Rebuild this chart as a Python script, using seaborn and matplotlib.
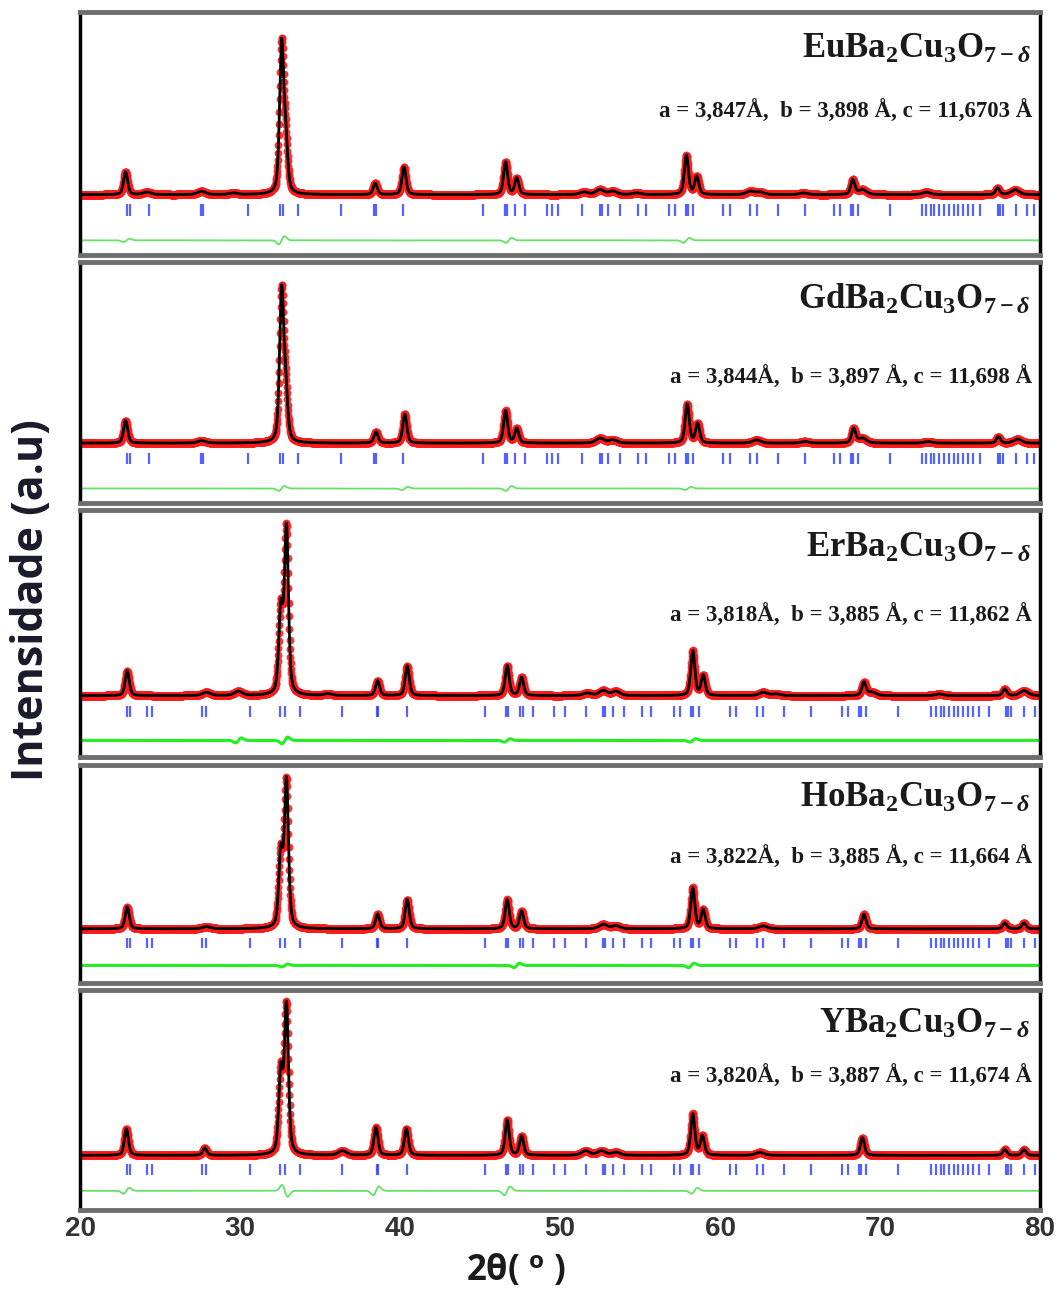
import numpy as np
import pandas as pd
import matplotlib
matplotlib.use("Agg")
import matplotlib.pyplot as plt
import seaborn as sns

sns.set_style("white")
plt.rcParams["mathtext.fontset"] = "custom"
plt.rcParams["mathtext.rm"] = "Liberation Serif:bold"
plt.rcParams["mathtext.it"] = "Liberation Serif:bold:italic"
plt.rcParams["mathtext.bf"] = "Liberation Serif:bold"
plt.rcParams["mathtext.sf"] = "Open Sans:bold"

# ---- data ---------------------------------------------------------------
formulas = [r"EuBa$_2$Cu$_3$O$_{7-\delta}$", r"GdBa$_2$Cu$_3$O$_{7-\delta}$",
            r"ErBa$_2$Cu$_3$O$_{7-\delta}$", r"HoBa$_2$Cu$_3$O$_{7-\delta}$",
            r"YBa$_2$Cu$_3$O$_{7-\delta}$"]
cells = ["a = 3,847Å,  b = 3,898 Å, c = 11,6703 Å",
         "a = 3,844Å,  b = 3,897 Å, c = 11,698 Å",
         "a = 3,818Å,  b = 3,885 Å, c = 11,862 Å",
         "a = 3,822Å,  b = 3,885 Å, c = 11,664 Å",
         "a = 3,820Å,  b = 3,887 Å, c = 11,674 Å"]

# peak position (2theta) and height (main peak ~ 100)
eu_pos = [22.85, 24.2, 27.6, 29.6, 32.6, 32.85, 38.45, 40.25, 46.6, 47.3, 51.5, 52.5, 53.3, 54.8,
          57.9, 58.55, 61.9, 62.5, 65.2, 68.3, 68.9, 72.9, 77.35, 78.45]
eu_hgt = [14, 1.5, 2, 1, 90, 30, 7, 17, 20, 10, 1.5, 3, 2, 1,
          24, 11, 2, 1.5, 1, 9, 3, 1.5, 4, 3]
gd_pos = [22.85, 27.6, 32.6, 32.85, 38.5, 40.3, 46.6, 47.3, 52.5, 53.3, 57.95, 58.6, 62.3, 65.3,
          68.35, 68.9, 73.0, 77.4, 78.6]
gd_hgt = [14, 1.5, 92, 30, 7, 18, 20, 9, 3, 2, 24, 12, 2, 1,
          9, 3, 1, 4, 2.5]
er_pos = [22.95, 27.9, 29.9, 32.55, 32.9, 35.5, 38.6, 40.45, 46.7, 47.6, 51.7, 52.7, 53.5, 58.3,
          58.95, 62.7, 63.5, 69.0, 69.5, 73.7, 77.8, 79.0]
er_hgt = [15, 2, 2.5, 50, 100, 1, 9, 18, 18, 11, 1.5, 3, 2.5, 27,
          12, 2, 1, 8, 2, 1, 4, 3]
ho_pos = [22.95, 27.9, 32.55, 32.9, 38.6, 40.45, 46.7, 47.6, 52.7, 53.5, 58.3, 58.95, 62.7, 69.0,
          77.8, 79.0]
ho_hgt = [15, 1.5, 50, 100, 10, 20, 20, 12, 3, 2, 28, 13, 2, 10,
          4, 4]
y_pos = [22.9, 27.8, 32.55, 32.9, 36.4, 38.5, 40.4, 46.7, 47.6, 51.6, 52.6, 53.5, 58.3, 58.9,
         62.5, 68.9, 77.8, 79.0]
y_hgt = [18, 5, 55, 100, 3, 19, 18, 24, 13, 3, 3, 2, 28, 13,
         2, 12, 4, 4]

# Bragg reflection positions
bragg_eu = [22.95, 23.1, 24.3, 27.55, 27.7, 30.5, 32.5, 32.7, 33.6, 36.3, 38.4, 38.5, 40.2, 45.2,
            46.55, 46.7, 47.2, 47.8, 49.2, 49.5, 49.9, 51.4, 52.5, 52.6, 53.0, 53.75, 54.9, 55.4,
            56.8, 57.2, 57.9, 58.0, 58.3, 60.2, 60.6, 61.9, 62.3, 63.6, 65.3, 67.1, 67.5, 68.2,
            68.3, 68.6, 70.6, 72.6, 72.9, 73.2, 73.4, 73.7, 74.0, 74.3, 74.6, 74.9, 75.2, 75.5,
            75.8, 76.25, 77.4, 77.5, 77.7, 78.5, 79.2, 79.6]
bragg_y = [22.95, 23.15, 24.2, 24.5, 27.6, 27.9, 30.6, 32.5, 32.8, 33.75, 36.4, 38.55, 38.65, 40.45,
           45.3, 46.65, 46.75, 47.5, 47.7, 48.3, 49.6, 50.3, 51.6, 52.7, 52.8, 53.3, 54.0, 55.1,
           55.7, 57.1, 57.5, 58.2, 58.3, 58.7, 60.6, 61.0, 62.3, 62.7, 64.0, 65.7, 67.6, 68.0,
           68.7, 68.8, 69.1, 71.1, 73.2, 73.5, 73.8, 74.0, 74.3, 74.6, 74.9, 75.2, 75.5, 75.8,
           76.2, 76.8, 77.9, 78.0, 78.2, 79.0, 79.7]

# difference curve wiggles (position, amplitude)
eu_dpos, eu_damp = [22.9, 32.6, 46.8, 57.9], [1.0, 2.5, 1.5, 1.5]
gd_dpos, gd_damp = [32.6, 40.3, 46.8, 58.0], [1.5, 1.0, 1.5, 1.0]
er_dpos, er_damp = [29.9, 32.8, 46.7, 58.3], [1.5, 2.0, 1.0, 1.0]
ho_dpos, ho_damp = [32.8, 47.3, 58.2], [1.0, 1.5, 1.5]
y_dpos, y_damp = [22.9, 32.8, 38.5, 46.7, 58.4], [2.0, -4.0, 3.0, 3.0, 2.0]

peaks = [(eu_pos, eu_hgt), (gd_pos, gd_hgt), (er_pos, er_hgt), (ho_pos, ho_hgt), (y_pos, y_hgt)]
braggs = [bragg_eu, bragg_eu, bragg_y, bragg_y, bragg_y]
diffs = [(eu_dpos, eu_damp), (gd_dpos, gd_damp), (er_dpos, er_damp), (ho_dpos, ho_damp), (y_dpos, y_damp)]

# ---- layout (pixel rows of each panel) -----------------------------------
W, H = 1060, 1298
panel_rows = [(12, 255), (262, 503), (510, 757), (765, 983), (990, 1210)]
cell_y = [0.59, 0.52, 0.575, 0.578, 0.605]
green_base = [-28, -28, -27, -25, -24]
green_lw = [1.3, 1.3, 2.2, 2.2, 1.3]
green_col = ["#66e066", "#66e066", "#22ee22", "#22ee22", "#66e066"]

tt = np.arange(20.0, 80.0, 0.02)


def pattern(pos, hgt):
    y = np.zeros_like(tt)
    for p, h in zip(pos, hgt):
        w = 0.3 if h >= 4 else 0.6
        u = (tt - p) / w
        y += h * (0.55 * np.exp(-4 * np.log(2) * u ** 2) + 0.45 / (1 + 4 * u ** 2))
    return y


def difference(pos, amp, base):
    y = np.full_like(tt, base)
    for p, a in zip(pos, amp):
        u = (tt - p) / 0.18
        y += a * 1.65 * u * np.exp(-u ** 2 / 2)
    return y


fig = plt.figure(figsize=(W / 100, H / 100), dpi=100)

for i in range(5):
    top, bot = panel_rows[i]
    ax = fig.add_axes([80 / W, 1 - bot / H, 960 / W, (bot - top) / H])
    calc = pattern(*peaks[i])
    df = pd.DataFrame({"tt": tt, "calc": calc,
                       "diff": difference(*diffs[i], green_base[i])})

    sns.scatterplot(data=df, x="tt", y="calc", ax=ax, color="#ff1a1a", s=32,
                    linewidth=0, alpha=0.9, legend=False, zorder=2)
    sns.lineplot(data=df, x="tt", y="calc", ax=ax, color="black", lw=2.0,
                 estimator=None, sort=False, zorder=3)
    sns.lineplot(data=df, x="tt", y="diff", ax=ax, color=green_col[i], lw=green_lw[i],
                 estimator=None, sort=False, zorder=2)
    ax.vlines(braggs[i], -13, -6, color="#2a3cff", lw=1.6, alpha=0.8, zorder=2)

    ax.set_xlim(20, 80)
    ax.set_ylim(-37, 112)
    ax.set_xlabel("")
    ax.set_ylabel("")
    ax.set_yticks([])
    ax.set_xticks(range(20, 81, 10))
    ax.tick_params(axis="x", direction="in", length=7, width=3, color="black",
                   labelbottom=(i == 4), labelsize=20, labelcolor="#333333", pad=4)
    for lab in ax.get_xticklabels():
        lab.set_fontweight("bold")
        lab.set_family("Liberation Sans")
    for s in ["left", "right"]:
        ax.spines[s].set_color("black")
        ax.spines[s].set_linewidth(2.5)
    for s in ["top", "bottom"]:
        ax.spines[s].set_color("#6e6e6e")
        ax.spines[s].set_linewidth(3.5)

    ax.text(0.99, 0.845, formulas[i], transform=ax.transAxes, ha="right", va="center",
            fontsize=25, fontfamily="Liberation Serif", fontweight="bold", color="#1a1a1a")
    ax.text(0.992, cell_y[i], cells[i], transform=ax.transAxes, ha="right", va="center",
            fontsize=16.5, fontfamily="Liberation Serif", fontweight="bold", color="#1a1a1a")

fig.text(32 / W, 1 - 600 / H, "Intensidade (a.u)", rotation=90, ha="center", va="center",
         fontsize=31, fontweight="bold", fontfamily="Open Sans", color="#1a1a2a")
fig.text(516 / W, 1 - 1271 / H, "2θ( $^{\\mathsf{o}}$ )", ha="center", va="center",
         fontsize=25, fontweight="bold", fontfamily="Open Sans", color="#1a1a1a")

fig.savefig("out.png", dpi=100)
